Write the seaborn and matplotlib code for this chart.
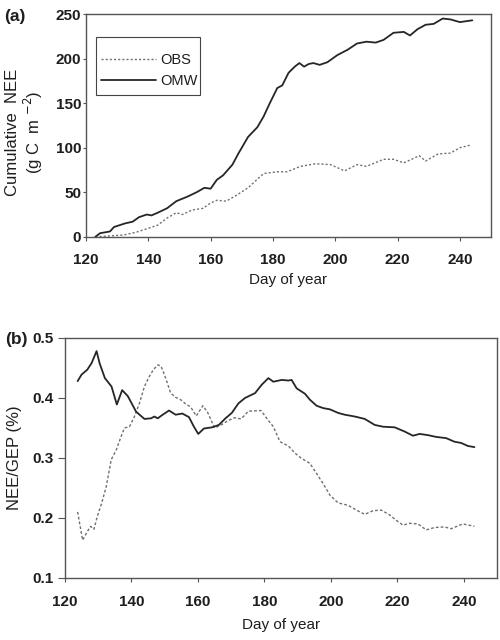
import numpy as np
import pandas as pd
import matplotlib
matplotlib.use("Agg")
import matplotlib.pyplot as plt
from matplotlib.patches import Rectangle
import seaborn as sns

# ---- Panel (a): cumulative NEE ----
a_omw_day = [123, 124.5, 127.7, 129, 132.5, 135, 137, 139.5, 141, 143, 146, 149, 152.5, 155.5, 158, 160,
             162, 164, 167, 169, 172, 175, 177, 179, 181.4, 183, 185, 187, 188.5, 190, 191.5, 193, 195,
             197.5, 200.7, 204, 207, 210, 213, 215.5, 218.7, 222, 224, 226.4, 229, 231.6, 234.5, 237,
             240, 244]
a_omw_val = [0, 4, 6, 11, 15, 17, 22, 25, 24, 27, 32, 40, 45, 50, 55, 54,
             64, 69, 81, 94, 112, 123, 135, 150, 167, 170, 184, 191, 195, 191, 194, 195, 193,
             196, 204, 210, 217, 219, 218, 221, 229, 230, 226, 233, 238, 239, 245, 244,
             241, 243]

a_obs_day = [123, 127.7, 132, 136, 139.5, 143, 146, 149, 151, 154, 157.6, 160, 162, 165, 168.5, 172,
             177, 181.4, 184.6, 188.8, 193.6, 198.5, 203, 207, 210, 215.5, 218.7, 222, 227, 229,
             233, 237, 240, 243.5]
a_obs_val = [0, 1, 2, 5, 9, 13, 21, 27, 25, 30, 32, 38, 41, 40, 47, 55,
             71, 73, 73, 79, 82, 81, 74, 81, 79, 87, 87, 83, 91, 85,
             93, 94, 100, 103]

# ---- Panel (b): NEE/GEP ----
b_omw_day = [123.8, 125, 126.7, 128, 129.5, 130.4, 132, 134, 135.6, 137.2, 138.9, 141.4, 143.9, 145.9,
             146.9, 147.9, 149.4, 151.3, 153.3, 155.3, 157.3, 158.8, 160.1, 161.8, 164.3, 166.3, 168.3,
             170.2, 172.2, 174.2, 177.2, 179.2, 181.2, 182.7, 185.2, 187.2, 188.2, 189.7, 192.2, 193.7,
             195.7, 197.7, 199.7, 202.2, 204.2, 207.2, 210.2, 213.2, 215.7, 219.2, 222.2, 224.7, 226.7,
             229.2, 231.7, 234.7, 237.2, 239.2, 241.2, 243.2]
b_omw_val = [0.428, 0.439, 0.447, 0.458, 0.478, 0.458, 0.433, 0.419, 0.389, 0.413, 0.403, 0.377, 0.365,
             0.366, 0.369, 0.366, 0.372, 0.379, 0.372, 0.374, 0.368, 0.352, 0.340, 0.349, 0.351, 0.355,
             0.366, 0.375, 0.391, 0.400, 0.408, 0.422, 0.433, 0.427, 0.430, 0.429, 0.430, 0.416, 0.407,
             0.397, 0.387, 0.383, 0.381, 0.375, 0.372, 0.369, 0.365, 0.355, 0.352, 0.351, 0.344, 0.337,
             0.340, 0.338, 0.335, 0.333, 0.327, 0.325, 0.320, 0.318]

b_obs_day = [123.8, 125.3, 126.7, 127.7, 128.7, 129.7, 131, 132.4, 133.9, 135.4, 136.9, 137.9, 139.4,
             140.9, 142.4, 143.9, 145.4, 146.6, 147.9, 148.9, 150.3, 151.8, 153.3, 154.8, 156.3, 157.8,
             159.5, 161.5, 163, 165, 167, 169, 171, 173, 175.2, 179, 180.7, 182.7, 184.7, 187.2, 189.2,
             191.2, 193.7, 195.7, 197.7, 199.7, 202.2, 205.2, 207.7, 210.2, 212.7, 215.2, 217.7, 219.7,
             221.7, 223.7, 226.2, 228.7, 231.2, 234.2, 236.2, 239.7, 243.2]
b_obs_val = [0.210, 0.163, 0.177, 0.186, 0.181, 0.202, 0.224, 0.252, 0.297, 0.313, 0.336, 0.350, 0.352,
             0.369, 0.391, 0.419, 0.436, 0.447, 0.455, 0.453, 0.433, 0.408, 0.401, 0.397, 0.390, 0.385,
             0.370, 0.387, 0.375, 0.350, 0.355, 0.362, 0.367, 0.365, 0.378, 0.379, 0.366, 0.352, 0.327,
             0.320, 0.308, 0.299, 0.291, 0.274, 0.257, 0.238, 0.225, 0.221, 0.213, 0.206, 0.212, 0.213,
             0.205, 0.196, 0.188, 0.191, 0.190, 0.180, 0.184, 0.185, 0.182, 0.190, 0.186]

x_ticks = [120, 140, 160, 180, 200, 220, 240]
a_yticks = [0, 50, 100, 150, 200, 250]
b_yticks = [0.1, 0.2, 0.3, 0.4, 0.5]
b_yticklabels = ["0.1", "0.2", "0.3", "0.4", "0.5"]

sns.set_style("white")
plt.rcParams['font.family'] = ['Liberation Sans', 'DejaVu Sans']

fig = plt.figure(figsize=(5, 6.4), dpi=100)
ax1 = fig.add_axes([0.172, 0.630, 0.810, 0.348])
ax2 = fig.add_axes([0.130, 0.097, 0.864, 0.375])

solid_c = "#262626"
dot_c = "#707070"
txt_c = "#1e1e1e"

sns.lineplot(x=a_obs_day, y=a_obs_val, ax=ax1, color=dot_c, lw=1.0, linestyle=(0, (1.5, 1.5)), label="OBS")
sns.lineplot(x=a_omw_day, y=a_omw_val, ax=ax1, color=solid_c, lw=1.3, label="OMW")
sns.lineplot(x=b_obs_day, y=b_obs_val, ax=ax2, color=dot_c, lw=1.0, linestyle=(0, (2, 1.5)))
sns.lineplot(x=b_omw_day, y=b_omw_val, ax=ax2, color=solid_c, lw=1.3)

for ax in (ax1, ax2):
    ax.set_xlim(120, 250)
    ax.set_xticks(x_ticks)
    for s in ax.spines.values():
        s.set_color("#555555")
        s.set_linewidth(1.0)
    ax.tick_params(axis='x', direction='out', length=3, width=0.8, color="#555555",
                   labelsize=11, pad=9, bottom=True)
    ax.set_xlabel("Day of year", fontsize=11, color=txt_c, labelpad=4)

ax1.set_ylim(0, 250)
ax1.set_yticks(a_yticks)
ax1.tick_params(axis='y', direction='out', length=2, width=0.8, color="#555555",
                labelsize=11, pad=1.5, left=True)
ax2.set_ylim(0.1, 0.5)
ax2.set_yticks(b_yticks)
ax2.set_yticklabels(b_yticklabels)
ax2.tick_params(axis='y', direction='out', length=5, width=0.8, color="#555555",
                labelsize=11, pad=3, left=True)
ax2.xaxis.labelpad = 7

for ax in (ax1, ax2):
    for lab in ax.get_xticklabels() + ax.get_yticklabels():
        lab.set_fontweight('bold')
        lab.set_color(txt_c)

ax1.set_ylabel("Cumulative  NEE\n(g C  m $^{-2}$)", fontsize=12, color=txt_c, linespacing=1.15)
ax1.yaxis.set_label_coords(-0.10, 0.47)
ax2.set_ylabel("NEE/GEP (%)", fontsize=12, color=txt_c)
ax2.yaxis.set_label_coords(-0.10, 0.5)

# legend (frame drawn separately to match the taller box)
leg = ax1.legend(loc="upper left", bbox_to_anchor=(101 / 500, 1 - 53 / 640),
                 bbox_transform=fig.transFigure, frameon=False,
                 fontsize=10.5, handlelength=3.8, handletextpad=0.25, borderpad=0,
                 borderaxespad=0, labelspacing=0.5)
for t in leg.get_texts():
    t.set_color(txt_c)
fig.patches.append(Rectangle((96 / 500, 1 - 95 / 640), 104 / 500, 58 / 640,
                             transform=fig.transFigure, fill=False,
                             edgecolor="#444444", lw=0.8, zorder=5))

fig.text(0.008, 0.975, "(a)", fontsize=12.5, fontweight='bold', va='center', ha='left', color=txt_c)
fig.text(0.01, 0.469, "(b)", fontsize=12.5, fontweight='bold', va='center', ha='left', color=txt_c)

fig.savefig("out.png", dpi=100)
